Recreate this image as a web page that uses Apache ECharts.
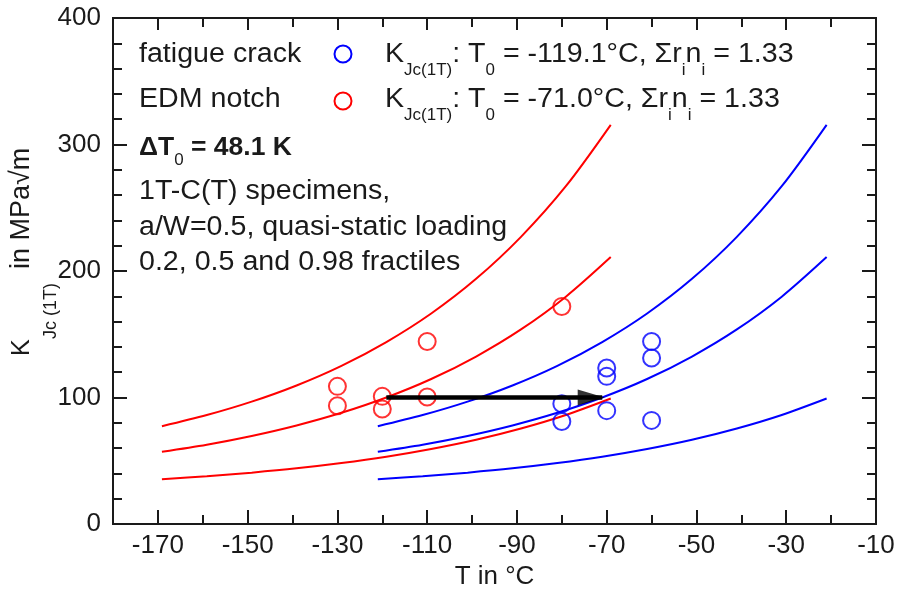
<!DOCTYPE html>
<html><head><meta charset="utf-8">
<script src="https://cdn.jsdelivr.net/npm/echarts@6/dist/echarts.min.js"></script>
<style>html,body{margin:0;padding:0;background:#fff}#c{width:898px;height:590px}</style>
</head><body><div id="c"></div>
<script>
// Fractile curves (K_Jc in MPa√m) read at 10 K steps across each curve
const fractile98 = [77.3, 86.1, 96.7, 109.5, 125.0, 143.8, 166.4, 193.8, 227.0, 267.0, 315.5];
const fractile50 = [57.1, 62.7, 69.6, 77.9, 87.9, 100.0, 114.6, 132.4, 153.8, 179.7, 211.0];
const fractile02 = [35.4, 37.7, 40.6, 44.0, 48.2, 53.2, 59.3, 66.6, 75.5, 86.2, 99.2];
const redT  = [-169.1, -159.1, -149.1, -139.1, -129.1, -119.1, -109.1, -99.1, -89.1, -79.1, -69.1];
const blueT = [-121, -111, -101, -91, -81, -71, -61, -51, -41, -31, -21];
// Test results
const redPointsT  = [-130, -130, -120, -120, -110, -110, -80];
const redPointsK  = [108.8, 93.5, 100.9, 90.9, 144.3, 100.4, 172.0];
const bluePointsT = [-80, -80, -70, -70, -70, -60, -60, -60];
const bluePointsK = [95.1, 81.1, 123.3, 116.7, 89.6, 144.3, 131.2, 81.9];
// Shift arrow
const arrowFrom = [-119.1, 100];
const arrowTo   = [-71.0, 100];
// Axis ticks
const xMajorTicks = [-170, -150, -130, -110, -90, -70, -50, -30, -10];
const xMinorTicks = [-160, -140, -120, -100, -80, -60, -40, -20];

const RED = '#ff0000', BLUE = '#0000ff', INK = '#1a1a1a';
const FONT = '"Liberation Sans", Arial, sans-serif';
const SX = 1.06;
const zip = (a, b) => a.map((v, i) => [v, b[i]]);

function xAx(pos, ticks, len, labels) {
  return {
    type: 'value', position: pos, min: -180, max: -10, interval: 10,
    axisLine: { show: true, onZero: false, lineStyle: { color: INK, width: 2 } },
    axisTick: { show: true, inside: true, length: len, customValues: ticks, lineStyle: { color: INK, width: 2 } },
    axisLabel: labels ? { show: true, customValues: xMajorTicks, fontSize: 26, fontFamily: FONT, color: INK, margin: 9 } : { show: false },
    splitLine: { show: false },
    name: labels ? 'T in °C' : '', nameLocation: 'middle', nameGap: 40,
    nameTextStyle: { fontSize: 26, fontFamily: FONT, color: INK }
  };
}
function yAx(pos, labels) {
  return {
    type: 'value', position: pos, min: 0, max: 400, interval: 100,
    axisLine: { show: true, onZero: false, lineStyle: { color: INK, width: 2 } },
    axisTick: { show: true, inside: true, length: 14, lineStyle: { color: INK, width: 2 } },
    minorTick: { show: true, splitNumber: 5, length: 9, lineStyle: { color: INK, width: 2 } },
    axisLabel: labels ? { show: true, fontSize: 26, fontFamily: FONT, color: INK, margin: 12 } : { show: false },
    splitLine: { show: false }
  };
}
function curve(T, K, color) {
  return { type: 'line', data: zip(T, K), showSymbol: false, smooth: 0.3, silent: true,
    lineStyle: { color: color, width: 2 }, z: 2 };
}
function pts(T, K, color) {
  return { type: 'scatter', data: zip(T, K), symbol: 'circle', symbolSize: 17, silent: true,
    itemStyle: { color: 'rgba(0,0,0,0)', borderColor: color, borderWidth: 2 }, z: 3 };
}

const main = { fontSize: 27, fontFamily: FONT, color: INK, lineHeight: 48, verticalAlign: 'middle' };
const sub = { fontSize: 16, fontFamily: FONT, color: INK, lineHeight: 15, verticalAlign: 'bottom' };
function txt(x, y, text, extra) {
  return Object.assign({ type: 'text', x: x, y: y, scaleX: SX, silent: true,
    style: { text: text, fontSize: 27, fontFamily: FONT, fill: INK, align: 'left', verticalAlign: 'middle' } }, extra || {});
}
function richRow(x, y, t0) {
  return { type: 'text', x: x, y: y, scaleX: SX, silent: true,
    style: { text: '{t|K}{s|Jc(1T)}{t|: T}{s|0}{t| = ' + t0 + '°C, Σr}{s|i}{t|n}{s|i}{t| = 1.33}',
      align: 'left', verticalAlign: 'middle', fill: INK, rich: { t: main, s: sub } } };
}
function rot(x, y, text, size) {
  return { type: 'text', x: x, y: y, rotation: Math.PI / 2, silent: true,
    style: { text: text, fontSize: size, fontFamily: FONT, fill: INK, align: 'left', verticalAlign: 'middle' } };
}

const chart = echarts.init(document.getElementById('c'), null, { renderer: 'canvas' });
chart.setOption({
  backgroundColor: '#fff',
  animation: false,
  grid: { left: 113, right: 22, top: 18, bottom: 66, containLabel: false, outerBoundsMode: 'none' },
  xAxis: [
    xAx('bottom', xMajorTicks, 14, true),
    xAx('bottom', xMinorTicks, 9, false),
    xAx('top', xMajorTicks, 12, false),
    xAx('top', xMinorTicks, 9, false)
  ],
  yAxis: [yAx('left', true), yAx('right', false)],
  series: [
    curve(redT, fractile98, RED), curve(redT, fractile50, RED), curve(redT, fractile02, RED),
    curve(blueT, fractile98, BLUE), curve(blueT, fractile50, BLUE), curve(blueT, fractile02, BLUE),
    pts(redPointsT, redPointsK, RED), pts(bluePointsT, bluePointsK, BLUE),
    { type: 'line', data: [arrowFrom, arrowTo], showSymbol: false, silent: true,
      lineStyle: { color: '#000', width: 4.5 }, z: 5 },
    { type: 'scatter', data: [arrowTo], symbol: 'triangle', symbolRotate: -90, symbolSize: [16, 27],
      symbolOffset: [-11, 0], silent: true, itemStyle: { color: '#000' }, z: 6 }
  ],
  graphic: [
    txt(139, 55, 'fatigue crack'),
    txt(139, 100, 'EDM notch'),
    { type: 'circle', shape: { cx: 343, cy: 54, r: 8.5 }, silent: true, style: { fill: 'none', stroke: BLUE, lineWidth: 2 } },
    { type: 'circle', shape: { cx: 343, cy: 101, r: 8.5 }, silent: true, style: { fill: 'none', stroke: RED, lineWidth: 2 } },
    richRow(385, 55, '-119.1'),
    richRow(385, 100, '-71.0'),
    { type: 'text', x: 139, y: 148, scaleX: SX, silent: true,
      style: { text: '{b|ΔT}{bs|0}{b| = 48.1 K}', align: 'left', verticalAlign: 'middle', fill: INK,
        rich: { b: Object.assign({}, main, { fontSize: 25, fontWeight: 'bold', lineHeight: 42 }),
                bs: Object.assign({}, sub, { fontSize: 16 }) } } },
    txt(139, 192, '1T-C(T) specimens,'),
    txt(139, 228, 'a/W=0.5, quasi-static loading'),
    txt(139, 263, '0.2, 0.5 and 0.98 fractiles'),
    // rotated y-axis title
    rot(22, 356, 'K', 25),
    rot(51, 339, 'Jc (1T)', 18),
    rot(22, 269, 'in MPa√m', 27)
  ]
});
</script></body></html>
